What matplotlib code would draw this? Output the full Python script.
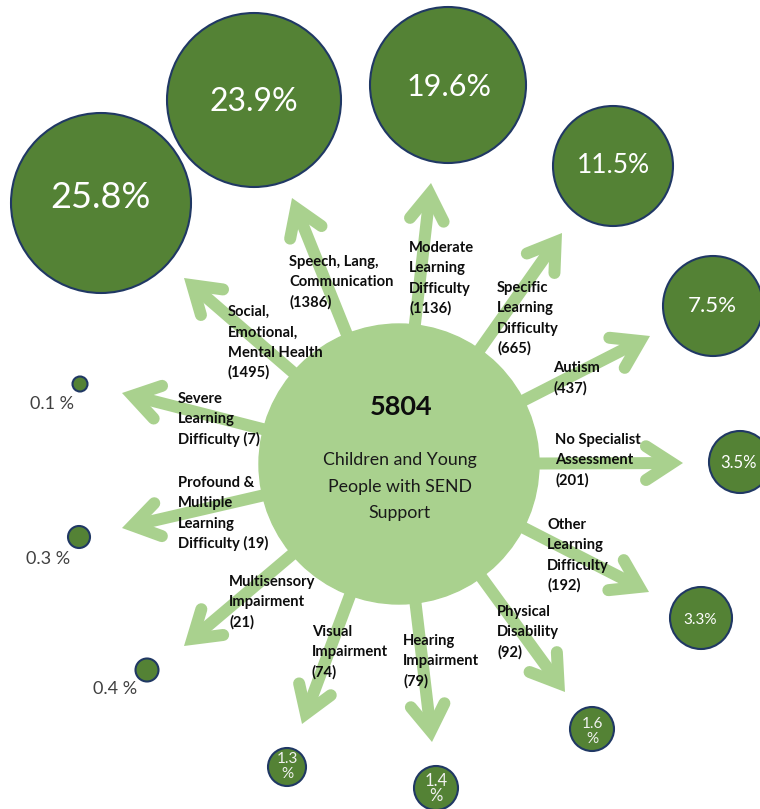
import numpy as np
import matplotlib.pyplot as plt
from matplotlib.patches import Circle

plt.rcParams['font.family'] = ['Lato', 'DejaVu Sans']

# data
total = 5804
hub_lines = ["Children and Young", "People with SEND", "Support"]

categories = [
    "Social,\nEmotional,\nMental Health",
    "Speech, Lang,\nCommunication",
    "Moderate\nLearning\nDifficulty",
    "Specific\nLearning\nDifficulty",
    "Autism",
    "No Specialist\nAssessment",
    "Other\nLearning\nDifficulty",
    "Physical\nDisability",
    "Hearing\nImpairment",
    "Visual\nImpairment",
    "Multisensory\nImpairment",
    "Profound &\nMultiple\nLearning\nDifficulty",
    "Severe\nLearning\nDifficulty",
]
counts = [1495, 1386, 1136, 665, 437, 201, 192, 92, 79, 74, 21, 19, 7]
percents = [25.8, 23.9, 19.6, 11.5, 7.5, 3.5, 3.3, 1.6, 1.4, 1.3, 0.4, 0.3, 0.1]

# layout (pixels of the 760x809 picture)
hub = (399, 464)
hub_r = 140
arrow_tips = [(184, 278), (292, 198), (431, 183), (562, 233), (650, 336),
              (683, 463), (649, 592), (565, 692), (432, 742), (302, 724),
              (184, 646), (122, 528), (122, 393)]
label_xy = [(228, 316), (289, 266), (409, 252), (497, 292), (553, 372),
            (555, 444), (547, 529), (497, 616), (403, 645), (312, 636),
            (229, 586), (178, 487), (178, 403)]
count_same_line = [False] * 11 + [True, True]
bubble_xy = [(101, 203), (254, 100), (448, 85), (613, 166), (713, 306),
             (740, 462), (701, 618), (592, 729), (436, 788), (287, 767),
             (147, 670), (79, 537), (80, 384)]
bubble_r = [90, 87, 78, 60, 50, 31, 31, 22, 22, 19, 11.5, 11, 7.5]
pct_size = [26, 23, 22, 19, 16, 12, 11, 11, 12, 11, 13, 13, 13]
pct_xy = [(100, 208), (254, 111), (449, 96), (613, 173), (712, 312),
          (739, 468), (700, 624), (592, 728), (436, 786), (287, 763),
          (115, 694), (48, 564), (52, 409)]

light = "#A9D18E"
dark = "#548235"
edge = "#203864"
px = 0.72  # points per pixel at 100 dpi


def arrow(ax, tip, lw=12, wing=31, half=np.radians(33)):
    tip = np.array(tip, float)
    d = tip - np.array(hub, float)
    d /= np.hypot(*d)
    vertex = tip - d * (lw / 2) / np.sin(half)
    ax.plot([hub[0], vertex[0]], [hub[1], vertex[1]], color=light,
            lw=lw * px, solid_capstyle='butt', zorder=1)
    c, s = np.cos(half), np.sin(half)
    r1 = np.array([c * d[0] - s * d[1], s * d[0] + c * d[1]])
    r2 = np.array([c * d[0] + s * d[1], -s * d[0] + c * d[1]])
    w1 = vertex - wing * r1
    w2 = vertex - wing * r2
    ax.plot([w1[0], vertex[0], w2[0]], [w1[1], vertex[1], w2[1]], color=light,
            lw=lw * px, solid_joinstyle='miter', solid_capstyle='round', zorder=1)


def lines_text(ax, x, y, lines, pitch, **kw):
    for i, line in enumerate(lines):
        ax.text(x, y + i * pitch, line, va='baseline', **kw)


fig = plt.figure(figsize=(7.6, 8.09), dpi=100)
ax = fig.add_axes([0, 0, 1, 1])
ax.set_xlim(0, 760)
ax.set_ylim(809, 0)
ax.axis('off')

for tip in arrow_tips:
    arrow(ax, tip)

ax.add_patch(Circle(hub, hub_r, color=light, zorder=2))
ax.text(hub[0] + 2, 415, str(total), ha='center', va='baseline',
        fontsize=19.5, fontweight='bold', color='#0d0d0d', zorder=3)
lines_text(ax, hub[0] + 1, 465, hub_lines, 26.5, ha='center',
           fontsize=12.8, color='#1a1a1a', zorder=3)

for i, name in enumerate(categories):
    parts = name.split("\n")
    if count_same_line[i]:
        parts[-1] += f" ({counts[i]})"
    else:
        parts.append(f"({counts[i]})")
    x, y = label_xy[i]
    lines_text(ax, x, y, parts, 20.3, ha='left', fontsize=10.6,
               fontweight='bold', color='#0d0d0d', zorder=3)

for i, p in enumerate(percents):
    ax.add_patch(Circle(bubble_xy[i], bubble_r[i], facecolor=dark,
                        edgecolor=edge, lw=1.5, zorder=4))
    x, y = pct_xy[i]
    if p >= 3:
        ax.text(x, y, f"{p}%", ha='center', va='baseline', color='white',
                fontsize=pct_size[i], zorder=5)
    elif p >= 1:
        lines_text(ax, x, y, [f"{p}", "%"], 15, ha='center', color='#F2F2F2',
                   fontsize=pct_size[i], zorder=5)
    else:
        ax.text(x, y, f"{p} %", ha='center', va='baseline', color='#404040',
                fontsize=pct_size[i], zorder=5)

fig.savefig("out.png", dpi=100)
